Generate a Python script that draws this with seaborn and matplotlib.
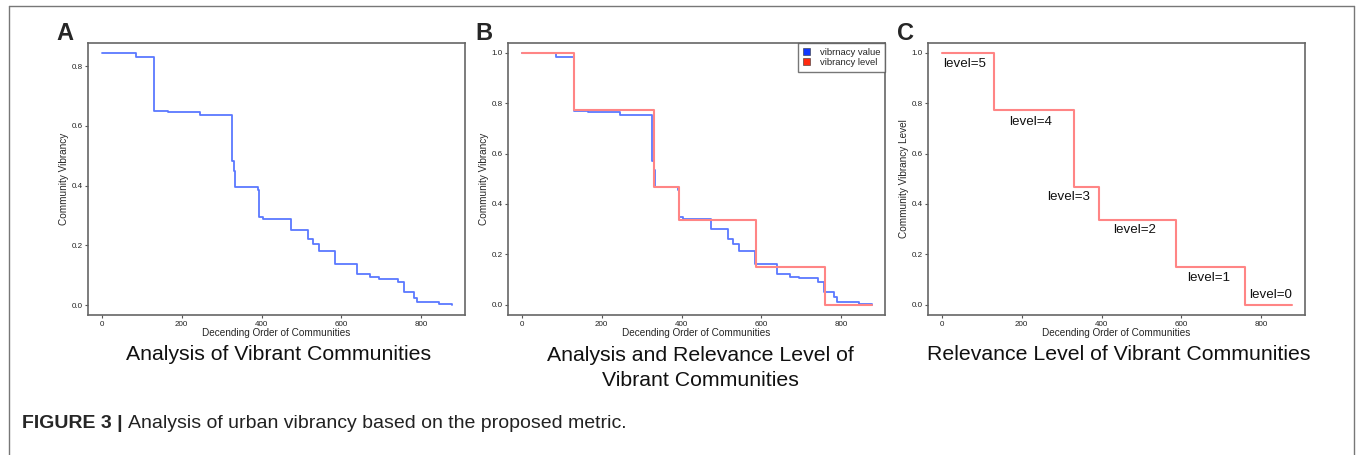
"""
plot.py
 Urban vibrancy figure: community vibrancy values and their relevance levels.
"""

import pandas as pd
import matplotlib.pyplot as plt
import seaborn as sns
from matplotlib.lines import Line2D
from matplotlib.patches import Patch

# Vibrancy value per community (step start on the descending order axis)
order_x = [0, 85, 132, 166, 247, 327, 330, 334, 383, 391, 394, 403, 473, 516,
           529, 543, 585, 640, 671, 694, 742, 756, 782, 790, 800, 845, 877]
vibrancy = [0.845, 0.829, 0.650, 0.647, 0.637, 0.483, 0.450, 0.396, 0.396, 0.386,
            0.296, 0.287, 0.253, 0.221, 0.205, 0.182, 0.137, 0.103, 0.093, 0.089,
            0.076, 0.044, 0.025, 0.009, 0.009, 0.003, 0.001]
vibrancy_scaled = [1.000, 0.981, 0.769, 0.766, 0.754, 0.572, 0.533, 0.469, 0.469, 0.457,
                   0.350, 0.340, 0.299, 0.262, 0.243, 0.215, 0.162, 0.122, 0.110, 0.105,
                   0.090, 0.052, 0.030, 0.011, 0.011, 0.004, 0.001]

# Relevance levels
level_x = [0, 132, 330, 393, 587, 760, 877]
level_val = [1.0, 0.771, 0.467, 0.337, 0.150, 0.0, 0.0]
level_names = ['level=5', 'level=4', 'level=3', 'level=2', 'level=1', 'level=0']
label_x = [3, 169, 265, 428, 614, 769]
label_y = [0.954, 0.724, 0.429, 0.295, 0.106, 0.040]

df_a = pd.DataFrame({'order': order_x, 'value': vibrancy})
df_b = pd.DataFrame({'order': order_x, 'value': vibrancy_scaled})
df_lvl = pd.DataFrame({'order': level_x, 'value': level_val})

sns.set_style('white')
plt.rcParams['font.family'] = ['Liberation Sans', 'DejaVu Sans']

blue = '#5b78ff'
red = '#ff8585'
W, H = 1357, 455
fig = plt.figure(figsize=(W / 100, H / 100), dpi=100)


def make_ax(left_px):
    ax = fig.add_axes([left_px / W, 1 - 315 / H, 377 / W, 272 / H])
    for s in ax.spines.values():
        s.set_color('#666666')
        s.set_linewidth(1.2)
    ax.tick_params(axis='both', bottom=True, left=True, length=2.5, width=0.8,
                   color='#555555', labelsize=5.8, pad=1.5, labelcolor='#222222')
    ax.set_xlim(-34, 909)
    ax.set_xticks([0, 200, 400, 600, 800])
    ax.set_xlabel('Decending Order of Communities', fontsize=7.2, labelpad=0)
    return ax


# A: vibrancy
ax_a = make_ax(88)
sns.lineplot(data=df_a, x='order', y='value', drawstyle='steps-post',
             color=blue, lw=1.3, ax=ax_a)
ax_a.set_ylim(-0.033, 0.877)
ax_a.set_yticks([0, 0.2, 0.4, 0.6, 0.8])
ax_a.set_ylabel('Community Vibrancy', fontsize=7.2, labelpad=2)

# B: vibrancy and level
ax_b = make_ax(508)
sns.lineplot(data=df_b, x='order', y='value', drawstyle='steps-post',
             color=blue, lw=1.3, ax=ax_b)
sns.lineplot(data=df_lvl, x='order', y='value', drawstyle='steps-post',
             color=red, lw=1.5, ax=ax_b)
ax_b.set_ylim(-0.040, 1.038)
ax_b.set_yticks([0, 0.2, 0.4, 0.6, 0.8, 1.0])
ax_b.set_ylabel('Community Vibrancy', fontsize=7.2, labelpad=2)
handles = [Patch(facecolor='#1238ff', edgecolor='#333333', lw=0.4),
           Patch(facecolor='#ff2a10', edgecolor='#333333', lw=0.4)]
leg = ax_b.legend(handles, ['vibrnacy value', 'vibrancy level'], loc='upper right',
                  fontsize=6.8, frameon=True, fancybox=False, borderaxespad=0,
                  handlelength=0.8, handleheight=0.8, handletextpad=1.0,
                  labelspacing=0.15, borderpad=0.5)
leg.get_frame().set_edgecolor('#555555')
leg.get_frame().set_linewidth(1.0)

# C: levels
ax_c = make_ax(928)
sns.lineplot(data=df_lvl, x='order', y='value', drawstyle='steps-post',
             color=red, lw=1.5, ax=ax_c)
ax_c.set_ylim(-0.040, 1.038)
ax_c.set_yticks([0, 0.2, 0.4, 0.6, 0.8, 1.0])
ax_c.set_ylabel('Community Vibrancy Level', fontsize=7.2, labelpad=2)
for name, lx, ly in zip(level_names, label_x, label_y):
    ax_c.text(lx, ly, name, fontsize=9.6, ha='left', va='center', color='#111111')

# panel letters and subtitles
for letter, px in zip(['A', 'B', 'C'], [65, 484, 906]):
    fig.text(px / W, 1 - 33 / H, letter, fontsize=17, fontweight='bold',
             ha='center', va='center')
fig.text(279 / W, 1 - 354 / H, 'Analysis of Vibrant Communities', fontsize=15.3,
         ha='center', va='center', color='#111111')
fig.text(700 / W, 1 - 368 / H, 'Analysis and Relevance Level of\nVibrant Communities',
         fontsize=15.3, ha='center', va='center', linespacing=1.45, color='#111111')
fig.text(1119 / W, 1 - 354 / H, 'Relevance Level of Vibrant Communities', fontsize=15.3,
         ha='center', va='center', color='#111111')

# caption: bold label, then the regular text right after it
cap_bold = fig.text(22 / W, 1 - 423 / H, 'FIGURE 3 |', fontsize=14, fontweight='bold',
                    ha='left', va='center')
renderer = fig.canvas.get_renderer()
bbox = cap_bold.get_window_extent(renderer)
fig.text((bbox.x1 + 5) / W, 1 - 423 / H,
         'Analysis of urban vibrancy based on the proposed metric.',
         fontsize=14, ha='left', va='center', color='#222222')

# outer frame (open at the bottom)
frame_kw = dict(color='#777777', lw=1.0, transform=fig.transFigure)
fig.add_artist(Line2D([9 / W, 9 / W], [0, 1 - 6 / H], **frame_kw))
fig.add_artist(Line2D([9 / W, 1354 / W], [1 - 6 / H, 1 - 6 / H], **frame_kw))
fig.add_artist(Line2D([1354 / W, 1354 / W], [0, 1 - 6 / H], **frame_kw))

fig.savefig('out.png', dpi=100)
